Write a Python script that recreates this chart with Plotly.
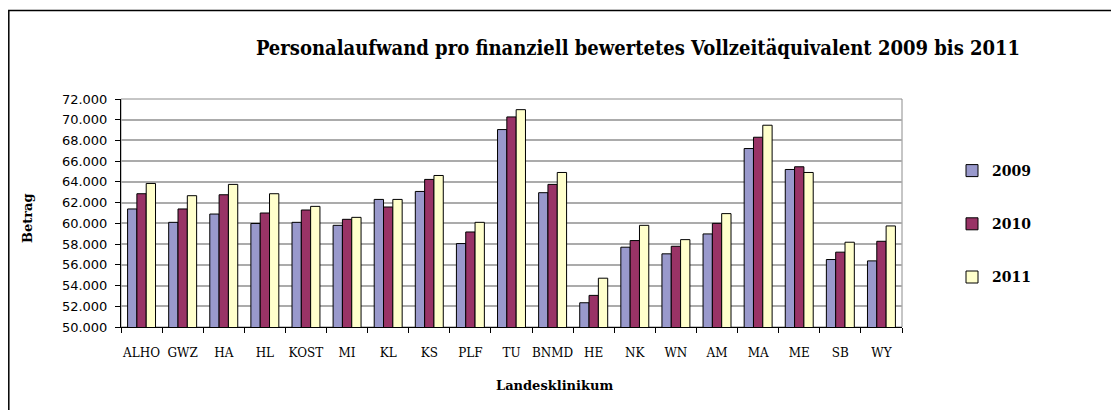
import plotly.graph_objects as go

categories = ["ALHO", "GWZ", "HA", "HL", "KOST", "MI", "KL", "KS", "PLF", "TU",
              "BNMD", "HE", "NK", "WN", "AM", "MA", "ME", "SB", "WY"]
values_2009 = [61390, 60100, 60900, 59990, 60100, 59810, 62310, 63080, 58050, 69050,
               62960, 52340, 57700, 57060, 58980, 67220, 65200, 56510, 56380]
values_2010 = [62860, 61390, 62760, 61000, 61290, 60390, 61580, 64240, 59170, 70270,
               63760, 53050, 58340, 57790, 60000, 68310, 65460, 57220, 58270]
values_2011 = [63850, 62670, 63760, 62860, 61640, 60580, 62310, 64620, 60100, 70970,
               64910, 54710, 59810, 58430, 60940, 69470, 64910, 58180, 59750]
series_names = ["2009", "2010", "2011"]
series_colors = ["#9999CC", "#993366", "#FFFFCC"]
y_ticks = list(range(50000, 72001, 2000))

OFF = 8  # page body margin
W, H = 1119 - OFF, 410 - OFF
# plot area (page pixels -> figure pixels)
L, R, T, B = 121 - OFF, 902 - OFF, 99 - OFF, 327 - OFF


def px_x(p):
    return (p - OFF - L) / (R - L)


def px_y(p):
    return (B - (p - OFF)) / (B - T)


serif = "DejaVu Serif"
fig = go.Figure()
for name, vals, col in zip(series_names, [values_2009, values_2010, values_2011], series_colors):
    fig.add_trace(go.Bar(
        x=categories, y=vals, name=name, legendgroup=name,
        marker=dict(color=col, line=dict(color="#000000", width=1)),
        hoverinfo="skip",
    ))

fig.update_layout(
    width=W, height=H,
    margin=dict(l=L, r=W - R, t=T, b=H - B, autoexpand=False),
    paper_bgcolor="white", plot_bgcolor="white",
    separators=",.",
    barmode="group", bargap=0.32, bargroupgap=0,
    title=dict(
        text="<b>Personalaufwand pro finanziell bewertetes Vollzeitäquivalent 2009 bis 2011</b>",
        font=dict(family="DejaVu Serif Condensed, " + serif, size=20, color="black"),
        xref="container", yref="container", x=(638 - OFF) / W, y=1 - (48 - OFF) / H,
        xanchor="center", yanchor="middle",
    ),
    xaxis=dict(
        type="category", showline=True, linecolor="black", linewidth=1,
        ticks="outside", tickson="boundaries", ticklen=5, tickcolor="black",
        ticklabelstandoff=15, tickangle=0,
        tickfont=dict(family=serif, size=12, color="black"),
        showgrid=False, zeroline=False,
    ),
    yaxis=dict(
        range=[50000, 72000], tickvals=y_ticks, tickformat=",.0f",
        showline=True, linecolor="black", linewidth=1,
        ticks="outside", ticklen=5, tickcolor="black", ticklabelstandoff=5,
        tickfont=dict(family="DejaVu Sans", size=13, color="black"),
        showgrid=True, gridcolor="#ababab", gridwidth=1.5, zeroline=False,
    ),
    legend=dict(
        x=px_x(952), y=px_y(155), xanchor="left", yanchor="top",
        font=dict(family=serif, size=14, color="black", weight="bold"),
        tracegroupgap=32, bgcolor="rgba(0,0,0,0)",
    ),
    showlegend=True,
    annotations=[
        dict(text="<b>Betrag</b>", x=px_x(27), y=px_y(218), xref="paper", yref="paper",
             textangle=-90, showarrow=False, xanchor="center", yanchor="middle",
             font=dict(family=serif, size=13, color="black")),
        dict(text="<b>Landesklinikum</b>", x=px_x(554), y=px_y(385), xref="paper", yref="paper",
             showarrow=False, xanchor="center", yanchor="middle",
             font=dict(family=serif, size=13, color="black")),
    ],
    shapes=[
        # plot-area border (gray)
        dict(type="rect", xref="paper", yref="paper", x0=0, x1=1, y0=0, y1=1,
             line=dict(color="#8c8c8c", width=1), layer="below"),
        # chart-area border
        dict(type="rect", xref="paper", yref="paper",
             x0=px_x(8.8), x1=px_x(1130), y0=px_y(420), y1=px_y(10.5),
             line=dict(color="black", width=1.5), layer="above"),
    ],
)

fig.write_html("out.html")
